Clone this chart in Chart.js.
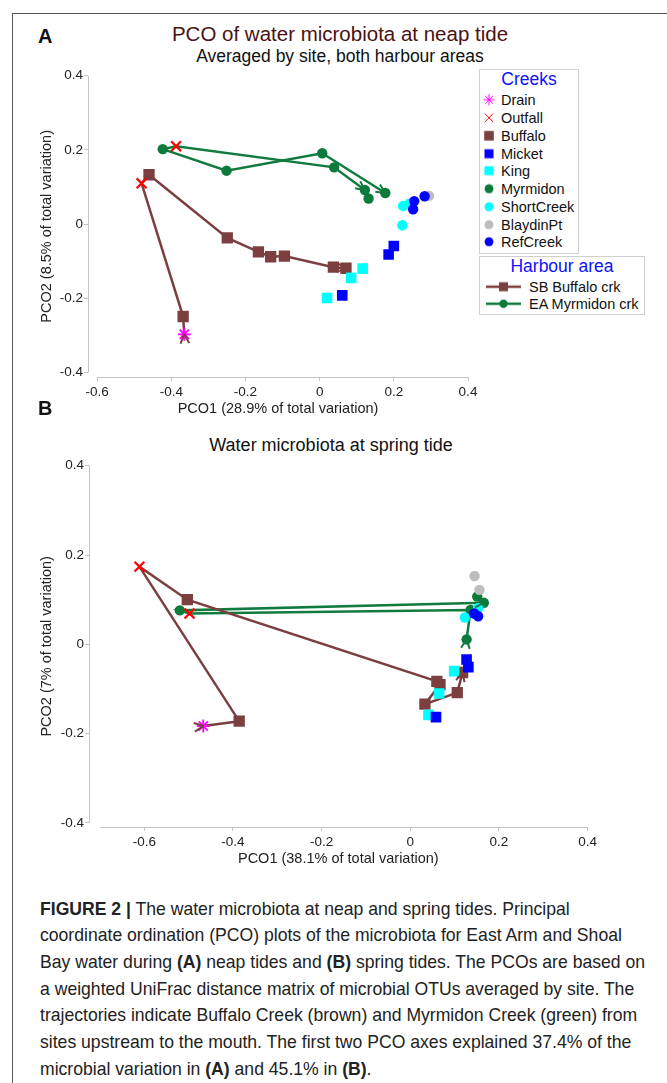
<!DOCTYPE html>
<html lang="en">
<head>
<meta charset="UTF-8">
<title>PCO water microbiota</title>
<script src="https://cdn.jsdelivr.net/npm/chart.js"></script>
<style>
  body { margin:0; background:#fff; font-family:"Liberation Sans", Arial, sans-serif; color:#111; }
  #page { position:relative; width:667px; height:1083px; overflow:hidden; background:#fff; }
  #frame { position:absolute; left:12px; top:13px; width:700px; height:1100px; border:1.5px solid #555; }
  .txt { position:absolute; white-space:nowrap; line-height:1; }
  .ctr { transform:translate(-50%,-50%); }
  .let { font-weight:bold; font-size:20px; transform:translateY(-50%); }
  canvas.plot { position:absolute; left:0; }
  .legbox { position:absolute; border:1px solid #cfcfcf; background:#fff; }
  .legtitle { position:absolute; left:0; right:0; text-align:center; color:#1010ff; font-size:17.5px; line-height:1; transform:translateY(-50%); }
  .legrow { position:absolute; font-size:14.5px; line-height:1; white-space:nowrap; transform:translateY(-50%); }
  .legrow canvas { position:absolute; }
  .cap { position:absolute; left:40px; font-size:18.5px; line-height:1; white-space:nowrap; color:#222; transform-origin:0 50%; }
</style>
</head>
<body>
<div id="page">
  <div id="frame"></div>

  <div class="txt let" style="left:38px; top:36px;">A</div>
  <div class="txt ctr" style="left:340px; top:34px; font-size:20.5px; color:#4a1212;">PCO of water microbiota at neap tide</div>
  <div class="txt ctr" style="left:340px; top:57px; font-size:17.5px;">Averaged by site, both harbour areas</div>
  <canvas id="neap" class="plot" width="667" height="360" style="top:60px"></canvas>

  <div id="legCreeks" class="legbox" style="left:479px; top:69px; width:98px; height:183px;">
    <div class="legtitle" style="top:10px;">Creeks</div>
  </div>
  <div id="legHarbour" class="legbox" style="left:479px; top:256px; width:164px; height:57px;">
    <div class="legtitle" style="top:10px;">Harbour area</div>
  </div>

  <div class="txt let" style="left:38px; top:408px;">B</div>
  <div class="txt ctr" style="left:331px; top:445px; font-size:18px;">Water microbiota at spring tide</div>
  <canvas id="spring" class="plot" width="667" height="415" style="top:455px"></canvas>

  <div id="caption"></div>
</div>

<script>
// creek categories (legend order)
const creekNames = ['Drain', 'Outfall', 'Buffalo', 'Micket', 'King', 'Myrmidon', 'ShortCreek', 'BlaydinPt', 'RefCreek'];
const harbourNames = ['SB Buffalo crk', 'EA Myrmidon crk'];

// axis ticks
const xTicks = [-0.6, -0.4, -0.2, 0, 0.2, 0.4];
const yTicks = [-0.4, -0.2, 0, 0.2, 0.4];

// ---- A: neap tide, [PCO1, PCO2] ----
const neapDrain      = [[-0.365, -0.297]];
const neapOutfall    = [[-0.387, 0.210], [-0.480, 0.110]];
const neapBuffalo    = [[-0.368, -0.249], [-0.460, 0.133], [-0.249, -0.037], [-0.165, -0.075], [-0.132, -0.088], [-0.095, -0.086], [0.037, -0.116], [0.071, -0.119]];
const neapMicket     = [[0.061, -0.192], [0.200, -0.059], [0.186, -0.082]];
const neapKing       = [[0.116, -0.120], [0.085, -0.145], [0.020, -0.199]];
const neapMyrmidon   = [[-0.423, 0.202], [-0.251, 0.144], [0.007, 0.191], [0.039, 0.153], [0.122, 0.092], [0.132, 0.069], [0.177, 0.084]];
const neapShortCreek = [[0.225, 0.049], [0.242, 0.055], [0.223, -0.003]];
const neapBlaydinPt  = [[0.295, 0.076]];
const neapRefCreek   = [[0.255, 0.062], [0.252, 0.040], [0.283, 0.075]];
// trajectories, upstream -> mouth
const neapBuffaloTrack   = [[-0.365, -0.297], [-0.368, -0.249], [-0.480, 0.110], [-0.460, 0.133], [-0.249, -0.037], [-0.165, -0.075], [-0.132, -0.088], [-0.095, -0.086], [0.037, -0.116], [0.071, -0.119]];
const neapMyrmidonTrack1 = [[-0.423, 0.202], [-0.251, 0.144], [0.007, 0.191], [0.177, 0.084]];
const neapMyrmidonTrack2 = [[-0.423, 0.202], [-0.387, 0.210], [0.039, 0.153], [0.122, 0.092]];

// ---- B: spring tide ----
const springDrain      = [[-0.467, -0.183]];
const springOutfall    = [[-0.611, 0.174], [-0.498, 0.069]];
const springBuffalo    = [[-0.386, -0.172], [-0.503, 0.100], [0.060, -0.083], [0.067, -0.090], [0.033, -0.134], [0.106, -0.108], [0.118, -0.063]];
const springMicket     = [[0.127, -0.034], [0.131, -0.051], [0.058, -0.163]];
const springKing       = [[0.099, -0.060], [0.065, -0.110], [0.041, -0.158]];
const springMyrmidon   = [[-0.520, 0.076], [0.151, 0.107], [0.166, 0.093], [0.136, 0.077], [0.127, 0.011]];
const springShortCreek = [[0.153, 0.081], [0.123, 0.060]];
const springBlaydinPt  = [[0.145, 0.153], [0.156, 0.122]];
const springRefCreek   = [[0.144, 0.069], [0.153, 0.063]];
const springBuffaloTrack  = [[-0.467, -0.183], [-0.386, -0.172], [-0.611, 0.174], [-0.503, 0.100], [0.060, -0.083], [0.067, -0.090], [0.033, -0.134], [0.106, -0.108], [0.118, -0.063]];
const springMyrmidonTrack = [[0.127, 0.011], [0.136, 0.077], [-0.498, 0.069], [-0.520, 0.076], [0.166, 0.093]];

// marker styles
const creekStyle = {
  Drain:      { shape: 'star',     color: '#ff00ff', r: 6.5, w: 1.8, order: 2 },
  Outfall:    { shape: 'crossRot', color: '#ff0000', r: 7,   w: 2.2, order: 1 },
  Buffalo:    { shape: 'rect',     color: '#7b3f3f', r: 8,   w: 0,   order: 9 },
  Micket:     { shape: 'rect',     color: '#0000ff', r: 7.5, w: 0,   order: 7 },
  King:       { shape: 'rect',     color: '#00ffff', r: 7.5, w: 0,   order: 8 },
  Myrmidon:   { shape: 'circle',   color: '#0b7a3b', r: 5.2, w: 0,   order: 6 },
  ShortCreek: { shape: 'circle',   color: '#00ffff', r: 5.2, w: 0,   order: 5 },
  BlaydinPt:  { shape: 'circle',   color: '#bdbdbd', r: 5.2, w: 0,   order: 4 },
  RefCreek:   { shape: 'circle',   color: '#0000ff', r: 5.2, w: 0,   order: 3 }
};
const buffaloLine = '#7b3f3f';
const myrmidonLine = '#117a3f';
const axisGrey = '#c4c4c4';

Chart.defaults.font.family = '"Liberation Sans", Arial, sans-serif';
Chart.defaults.color = '#222';

const xy = pts => pts.map(p => ({ x: p[0], y: p[1] }));

function markerSet(name, pts) {
  const s = creekStyle[name];
  return {
    label: name, data: xy(pts), showLine: false,
    pointStyle: s.shape, pointRadius: s.r, pointHoverRadius: s.r,
    backgroundColor: s.color, borderColor: s.color, borderWidth: s.w,
    order: s.order
  };
}

function trackSet(pts, color, arrowStart, arrowEnd) {
  return {
    data: xy(pts), showLine: true, fill: false,
    borderColor: color, borderWidth: 2.5, pointRadius: 0, pointHoverRadius: 0,
    order: 20, arrowStart: arrowStart, arrowEnd: arrowEnd
  };
}

// open arrow heads along trajectory direction
function head(ctx, tip, from) {
  const dx = tip.x - from.x, dy = tip.y - from.y;
  const len = Math.hypot(dx, dy) || 1;
  const ux = dx / len, uy = dy / len, L = 10, a = 0.45;
  ctx.beginPath();
  for (const s of [a, -a]) {
    const cx = ux * Math.cos(s) - uy * Math.sin(s);
    const cy = ux * Math.sin(s) + uy * Math.cos(s);
    ctx.moveTo(tip.x - L * cx, tip.y - L * cy);
    ctx.lineTo(tip.x, tip.y);
  }
  ctx.stroke();
}

const arrowPlugin = {
  id: 'arrows',
  afterDatasetsDraw(chart) {
    const ctx = chart.ctx;
    chart.data.datasets.forEach((ds, i) => {
      if (!ds.arrowStart && !ds.arrowEnd) return;
      const pts = chart.getDatasetMeta(i).data;
      const n = pts.length;
      ctx.save();
      ctx.strokeStyle = ds.borderColor;
      ctx.lineWidth = 2;
      if (ds.arrowStart) {
        // tip on the first site, pointing along the path
        const p0 = pts[0], p1 = pts[1];
        head(ctx, p0, { x: 2 * p0.x - p1.x, y: 2 * p0.y - p1.y });
      }
      if (ds.arrowEnd) head(ctx, pts[n - 1], pts[n - 2]);
      ctx.restore();
    });
  }
};

// detached axis lines (PRIMER style)
const axisLines = {
  id: 'axisLines',
  beforeDatasetsDraw(chart, args, opts) {
    const { ctx, chartArea, scales } = chart;
    const bx = Math.round(chartArea.bottom) + 0.5;
    const lx = Math.round(chartArea.left) + 0.5;
    ctx.save();
    ctx.strokeStyle = axisGrey;
    ctx.lineWidth = 1;
    ctx.beginPath();
    ctx.moveTo(scales.x.getPixelForValue(opts.xFrom), bx);
    ctx.lineTo(scales.x.getPixelForValue(xTicks[xTicks.length - 1]), bx);
    ctx.moveTo(lx, scales.y.getPixelForValue(yTicks[yTicks.length - 1]));
    ctx.lineTo(lx, scales.y.getPixelForValue(yTicks[0]));
    ctx.stroke();
    ctx.restore();
  }
};

function makeChart(id, datasets, cfg) {
  return new Chart(document.getElementById(id), {
    type: 'scatter',
    data: { datasets: datasets },
    options: {
      responsive: false,
      animation: false,
      layout: { padding: cfg.padding },
      plugins: {
        legend: { display: false },
        tooltip: { enabled: false },
        axisLines: { xFrom: cfg.xFrom }
      },
      scales: {
        x: {
          type: 'linear', min: cfg.xMin, max: 0.4,
          afterBuildTicks: s => { s.ticks = xTicks.map(v => ({ value: v })); },
          afterFit: s => { s.height = 41; },
          border: { display: false },
          grid: { drawOnChartArea: false, tickLength: 4, color: axisGrey },
          ticks: { font: { size: 13.5 }, color: '#222', padding: 3, callback: v => String(+v.toFixed(1)) },
          title: { display: true, text: cfg.xTitle, font: { size: 14.5 }, color: '#222', padding: 0 }
        },
        y: {
          type: 'linear', min: cfg.yMin, max: 0.4,
          afterBuildTicks: s => { s.ticks = yTicks.map(v => ({ value: v })); },
          afterFit: s => { s.width = cfg.yWidth; },
          border: { display: false },
          grid: { drawOnChartArea: false, tickLength: 4, color: axisGrey },
          ticks: { font: { size: 13.5 }, color: '#222', padding: 1, callback: v => String(+v.toFixed(1)) },
          title: { display: true, text: cfg.yTitle, font: { size: 14.5 }, color: '#222', padding: { top: 38, bottom: 0 } }
        }
      }
    },
    plugins: [axisLines, arrowPlugin]
  });
}

const neapSets = [
  markerSet('Drain', neapDrain), markerSet('Outfall', neapOutfall), markerSet('Buffalo', neapBuffalo),
  markerSet('Micket', neapMicket), markerSet('King', neapKing), markerSet('Myrmidon', neapMyrmidon),
  markerSet('ShortCreek', neapShortCreek), markerSet('BlaydinPt', neapBlaydinPt), markerSet('RefCreek', neapRefCreek),
  trackSet(neapBuffaloTrack, buffaloLine, true, true),
  trackSet(neapMyrmidonTrack1, myrmidonLine, false, true),
  trackSet(neapMyrmidonTrack2, myrmidonLine, false, true)
];
makeChart('neap', neapSets, {
  padding: { top: 15.7, left: 0, right: 199, bottom: 2 },
  xMin: -0.6245, yMin: -0.412, xFrom: -0.6, yWidth: 88,
  xTitle: 'PCO1 (28.9% of total variation)', yTitle: 'PCO2 (8.5% of total variation)'
});

const springSets = [
  markerSet('Drain', springDrain), markerSet('Outfall', springOutfall), markerSet('Buffalo', springBuffalo),
  markerSet('Micket', springMicket), markerSet('King', springKing), markerSet('Myrmidon', springMyrmidon),
  markerSet('ShortCreek', springShortCreek), markerSet('BlaydinPt', springBlaydinPt), markerSet('RefCreek', springRefCreek),
  trackSet(springBuffaloTrack, buffaloLine, true, true),
  trackSet(springMyrmidonTrack, myrmidonLine, true, true)
];
makeChart('spring', springSets, {
  padding: { top: 10.7, left: 0, right: 79.4, bottom: 2 },
  xMin: -0.7248, yMin: -0.409, xFrom: -0.7, yWidth: 89,
  xTitle: 'PCO1 (38.1% of total variation)', yTitle: 'PCO2 (7% of total variation)'
});

// ---- legends, markers drawn with Chart.js helpers ----
function legendCanvas(w, h, draw) {
  const c = document.createElement('canvas');
  c.width = w; c.height = h;
  draw(c.getContext('2d'));
  return c;
}
function pointOpts(name, scale) {
  const s = creekStyle[name];
  return { pointStyle: s.shape, radius: s.r * scale, borderWidth: s.w, rotation: 0 };
}
function drawMarker(ctx, name, x, y, scale) {
  const s = creekStyle[name];
  ctx.fillStyle = s.color; ctx.strokeStyle = s.color;
  Chart.helpers.drawPoint(ctx, pointOpts(name, scale), x, y);
}

const creekBox = document.getElementById('legCreeks');
creekNames.forEach((name, k) => {
  const row = document.createElement('div');
  row.className = 'legrow';
  row.style.left = '21px';
  row.style.top = (30.3 + k * 17.75) + 'px';
  row.textContent = name;
  const c = legendCanvas(16, 16, ctx => drawMarker(ctx, name, 8, 8, 0.85));
  c.style.left = '-20px'; c.style.top = '-1px';
  row.appendChild(c);
  creekBox.appendChild(row);
});

const harbourBox = document.getElementById('legHarbour');
[['Buffalo', buffaloLine], ['Myrmidon', myrmidonLine]].forEach((it, k) => {
  const row = document.createElement('div');
  row.className = 'legrow';
  row.style.left = '49px';
  row.style.top = (29.7 + k * 17.6) + 'px';
  row.textContent = harbourNames[k];
  const c = legendCanvas(38, 16, ctx => {
    ctx.strokeStyle = it[1]; ctx.lineWidth = 2.5;
    ctx.beginPath(); ctx.moveTo(1, 8); ctx.lineTo(36, 8); ctx.stroke();
    drawMarker(ctx, it[0], 18.5, 8, 0.8);
  });
  c.style.left = '-44px'; c.style.top = '-1px';
  row.appendChild(c);
  harbourBox.appendChild(row);
});

// ---- caption ----
const captionLines = [
  '<b>FIGURE 2 |</b> The water microbiota at neap and spring tides. Principal',
  'coordinate ordination (PCO) plots of the microbiota for East Arm and Shoal',
  'Bay water during <b>(A)</b> neap tides and <b>(B)</b> spring tides. The PCOs are based on',
  'a weighted UniFrac distance matrix of microbial OTUs averaged by site. The',
  'trajectories indicate Buffalo Creek (brown) and Myrmidon Creek (green) from',
  'sites upstream to the mouth. The first two PCO axes explained 37.4% of the',
  'microbial variation in <b>(A)</b> and 45.1% in <b>(B)</b>.'
];
const cap = document.getElementById('caption');
const capDivs = captionLines.map((html, k) => {
  const d = document.createElement('div');
  d.className = 'cap';
  d.innerHTML = html;
  d.style.top = (909 + k * 26.67 - 9.25) + 'px';
  cap.appendChild(d);
  return d;
});
const sx = 582 / capDivs[1].offsetWidth;
capDivs.forEach(d => { d.style.transform = 'scaleX(' + sx.toFixed(3) + ')'; });
</script>
</body>
</html>
